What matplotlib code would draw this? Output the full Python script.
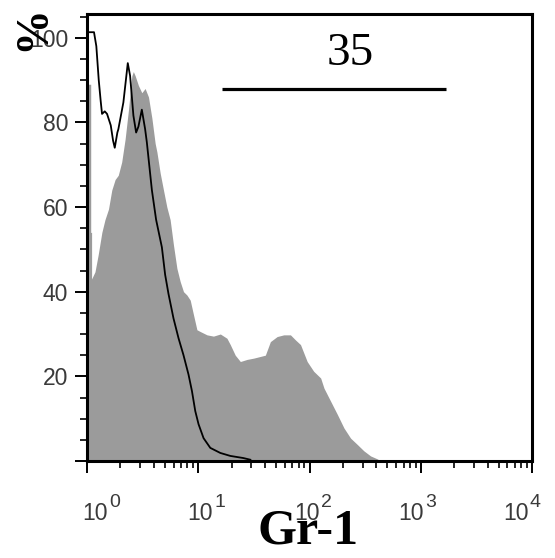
import matplotlib
matplotlib.use("Agg")
import matplotlib.pyplot as plt
from matplotlib.ticker import FixedLocator, NullFormatter, LogLocator

# ---------------- data ----------------
# Gr-1 stained sample (filled grey histogram): intensity, % of max
gray_x = [1.00, 1.03, 1.08, 1.08, 1.10, 1.10, 1.18, 1.26, 1.36, 1.45, 1.56, 1.67,
          1.79, 1.91, 2.05, 2.20, 2.36, 2.53, 2.61, 2.71, 2.90, 3.11, 3.33, 3.57,
          3.83, 4.10, 4.25, 4.55, 4.87, 5.22, 5.59, 5.99, 6.43, 6.88, 7.37, 7.91,
          8.47, 9.07, 9.73, 10.4, 11.98, 13.7, 15.8, 18.1, 19.4, 21.5, 23.9, 27.5,
          31.5, 36.2, 40.1, 44.5, 51.2, 58.7, 67.4, 74.8, 83.0, 95.3, 109, 126,
          135, 155, 178, 204, 234, 269, 308, 354, 407, 436]
gray_y = [89, 89, 89, 54, 54, 43, 44.7, 48.7, 54, 57, 59.5, 64,
          66.5, 67.5, 70.6, 76, 83, 91, 92, 91, 88.7, 87, 88, 86,
          81, 75, 73, 68, 64, 60, 57, 51, 45.5, 42.4, 40, 39.2,
          38, 34.5, 31, 30.6, 29.8, 29.5, 30, 29, 27.5, 25, 23.5, 24,
          24.3, 24.7, 25, 28.2, 29.4, 29.8, 29.8, 28.6, 27.5, 23.5, 21.2, 19.6,
          17.2, 14.1, 11, 7.8, 5.4, 3.9, 2.4, 1.2, 0.5, 0]

# isotype control (black line)
ctrl_x = [1.00, 1.156, 1.213, 1.275, 1.328, 1.365, 1.444, 1.514, 1.635, 1.715,
          1.776, 1.875, 1.914, 2.123, 2.326, 2.440, 2.613, 2.764, 2.899, 3.11,
          3.33, 3.45, 3.83, 4.18, 4.71, 5.04, 5.40, 5.99, 6.65, 7.37, 8.18,
          8.78, 9.40, 10.06, 11.16, 12.83, 15.79, 19.43, 25.4, 29.4]
ctrl_y = [101.3, 101.3, 98, 90, 85, 82, 82.6, 82, 79.3, 75.7,
          74, 77.6, 78.4, 84.7, 94, 91, 81.6, 77.6, 79, 83,
          78.4, 75.3, 64, 57, 50.5, 44, 39.5, 33.7, 29, 25, 20.4,
          16.5, 11.8, 8.7, 5.4, 3.1, 1.9, 1.2, 0.7, 0.3]

# gate marker
gate_lo, gate_hi, gate_level = 16.35, 1680, 87.8
gate_label = "35"
gate_label_pos = (234, 96.3)

x_major = [1, 10, 100, 1000, 10000]
x_exps = ["0", "1", "2", "3", "4"]
y_major = [0, 20, 40, 60, 80, 100]
y_labels = ["", "20", "40", "60", "80", "100"]

# ---------------- style ----------------
plt.rcParams['font.family'] = ['Liberation Sans', 'DejaVu Sans']
serif = ['Liberation Serif', 'DejaVu Serif']
label_color = '#3a3a3a'

fig = plt.figure(figsize=(5.55, 5.58), dpi=100)
ax = fig.add_axes([87/555, 1 - 461/558, (532 - 87)/555, (461 - 14)/558])

ax.fill_between(gray_x, gray_y, 0, color='#9b9b9b', linewidth=0, zorder=1)
ax.plot(ctrl_x, ctrl_y, color='black', linewidth=1.3, zorder=2)
ax.plot([gate_lo, gate_hi], [gate_level, gate_level], color='black',
        linewidth=2.3, solid_capstyle='butt', zorder=3)
ax.text(gate_label_pos[0], gate_label_pos[1], gate_label, ha='center', va='center',
        fontsize=34, family=serif, color='black')

ax.set_xscale('log')
ax.set_xlim(1, 10000)
ax.set_ylim(0, 105.6)

ax.xaxis.set_major_locator(FixedLocator(x_major))
ax.xaxis.set_minor_locator(LogLocator(base=10, subs=range(2, 10)))
ax.xaxis.set_minor_formatter(NullFormatter())
ax.set_xticklabels([""] * len(x_major))
ax.set_yticks(y_major)
ax.set_yticklabels(y_labels)
ax.yaxis.set_minor_locator(FixedLocator(list(range(0, 106, 5))))

for s in ax.spines.values():
    s.set_linewidth(2.2)
    s.set_color('black')

ax.tick_params(axis='both', which='major', direction='out', length=8.6, width=1.4,
               color='black', labelcolor=label_color, labelsize=16.5)
ax.tick_params(axis='y', which='major', pad=5)
ax.tick_params(axis='both', which='minor', direction='out', length=5, width=1.2,
               color='black')
ax.tick_params(top=False, right=False, which='both')

# x tick labels "10" with a large exponent, spread slightly narrower than the ticks
xtr = ax.get_xaxis_transform()
shifts_px = [8, 2, -2, -10, -16]
for xv, e, dx in zip(x_major, x_exps, shifts_px):
    ax.annotate("10", xy=(xv, 0), xycoords=xtr, xytext=(dx, -59),
                textcoords='offset pixels', ha='center', va='baseline',
                fontsize=16.5, color=label_color, annotation_clip=False)
    ax.annotate(e, xy=(xv, 0), xycoords=xtr, xytext=(dx + 14, -46),
                textcoords='offset pixels', ha='left', va='baseline',
                fontsize=14, color=label_color, annotation_clip=False)

fig.text(308/555, 1 - 531/558, "Gr-1", ha='center', va='center', fontsize=36,
         fontweight='bold', family=serif)
fig.text(33/555, 1 - 28/558, "%", ha='center', va='center', fontsize=33,
         fontweight='bold', rotation=90, family=serif)

fig.savefig("out.png", dpi=100)
